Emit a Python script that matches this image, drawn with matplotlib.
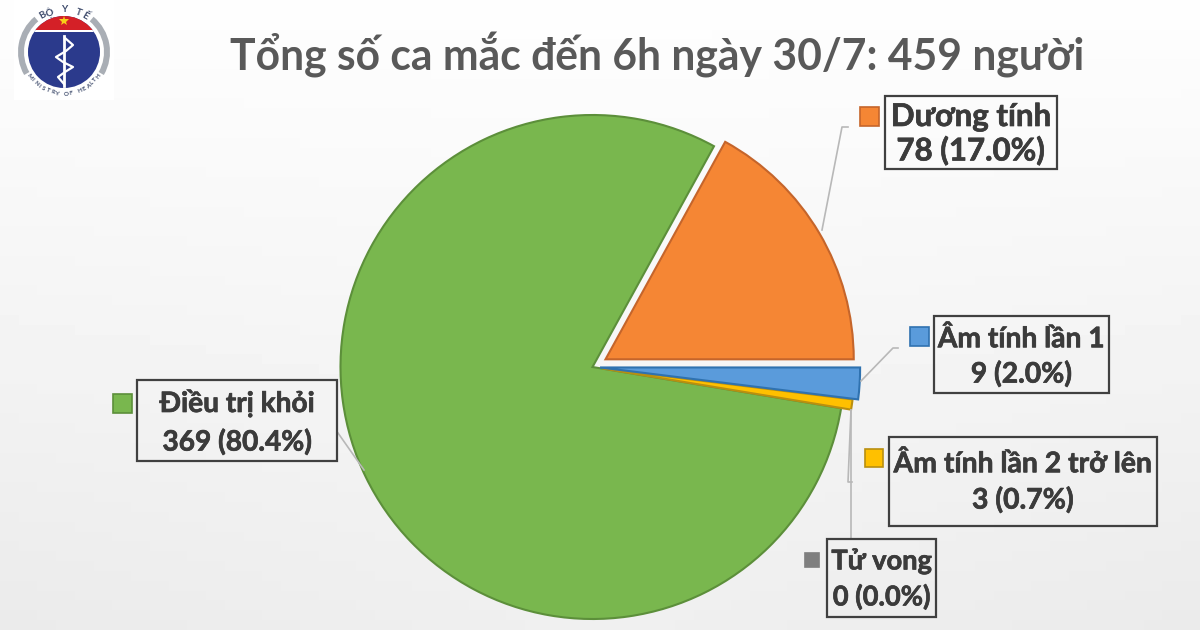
import numpy as np
import matplotlib
matplotlib.use("Agg")
import matplotlib.pyplot as plt
import matplotlib.patheffects as pe
from matplotlib.patches import Circle, Rectangle, Wedge

plt.rcParams['font.family'] = ['Lato', 'Noto Sans', 'DejaVu Sans']

# data, in pie order (counter clockwise from 3 o'clock)
categories = ["Dương tính", "Điều trị khỏi", "Tử vong", "Âm tính lần 2 trở lên", "Âm tính lần 1"]
cases = [78, 369, 0, 3, 9]
title_text = "Tổng số ca mắc đến 6h ngày 30/7: 459 người"

fill_colors = ["#F58634", "#79B74E", "#7F7F7F", "#FFC000", "#5A9BDB"]
edge_colors = ["#C5652B", "#5C8F3A", "#7F7F7F", "#B98F10", "#2F72B0"]
explode = [0.06, 0.0, 0.0, 0.04, 0.03]
radius_scale = [0.985, 1.0, 1.0, 1.0, 1.032]

# label box (x0, y0, x1, y1), text rows, font size, marker (x0, y0, size), leader points - image pixels
boxes = [(885, 96, 1057, 169), (137, 380, 337, 461), (827, 539, 936, 617), (889, 437, 1157, 526), (934, 316, 1109, 393)]
text_rows = [(117, 151), (403, 442), (561, 597), (464, 500), (339, 374)]
label_sizes = [22.5, 20.2, 19.6, 20.4, 20.3]
markers = [(860, 107, 19), (113, 394, 19), (805, 553, 14), (865, 449, 18), (910, 327, 19)]
leaders = [
    [(822, 230), (842, 127), (848, 127)],
    [(338, 433), (364, 470)],
    [(851, 410), (851, 539)],
    [(851, 410), (848, 482), (852, 482)],
    [(861, 381), (893, 348), (898, 348)],
]

fig = plt.figure(figsize=(12, 6.3), dpi=100)
ax = fig.add_axes([0, 0, 1, 1])
ax.set_xlim(0, 1200)
ax.set_ylim(630, 0)
ax.axis("off")

# soft slide background
rows = np.linspace(0, 1, 64)[:, None]
cols = np.abs(np.linspace(-1, 1, 64))[None, :]
shade = 0.995 - 0.055 * rows - 0.02 * cols * rows
ax.imshow(shade, cmap="gray", vmin=0, vmax=1, extent=(0, 1200, 630, 0), aspect="auto", zorder=0)

ax.text(657, 55, title_text, fontsize=30.7, fontweight="bold", color="#595959",
        ha="center", va="center", zorder=3)

# pie gets its own axes so that radius 1 = 252 px
cx, cy, r_px = 592.5, 367, 252
span = 1.5
pie_ax = fig.add_axes([(cx - span * r_px) / 1200, 1 - (cy + span * r_px) / 630,
                       2 * span * r_px / 1200, 2 * span * r_px / 630])
wedges, _ = pie_ax.pie(cases, colors=fill_colors, explode=explode, startangle=0, counterclock=True,
                       wedgeprops={"linewidth": 1.5})
for w, ec, v, rs in zip(wedges, edge_colors, cases, radius_scale):
    w.set_edgecolor(ec)
    w.set_radius(rs)
    if v == 0:
        w.set_visible(False)
pie_ax.set_xlim(-span, span)
pie_ax.set_ylim(-span, span)
pie_ax.axis("off")
pie_ax.patch.set_alpha(0)

# labels go on an overlay so they sit above the pie
top = fig.add_axes([0, 0, 1, 1])
top.set_xlim(0, 1200)
top.set_ylim(630, 0)
top.axis("off")
top.patch.set_alpha(0)

heavier = [pe.withStroke(linewidth=0.5, foreground="#3B3B3B")]
total = sum(cases)
for name, v, box, row, size, mark, line, fc, ec in zip(categories, cases, boxes, text_rows, label_sizes,
                                                       markers, leaders, fill_colors, edge_colors):
    xs, ys = zip(*line)
    top.plot(xs, ys, color="#B8B8B8", lw=1.2, zorder=2)
    x0, y0, x1, y1 = box
    top.add_patch(Rectangle((x0, y0), x1 - x0, y1 - y0, fc="none", ec="#404040", lw=1.6, zorder=3))
    top.text((x0 + x1) / 2, row[0], name, fontsize=size, fontweight="bold", color="#3B3B3B",
             ha="center", va="center", zorder=4, path_effects=heavier)
    top.text((x0 + x1) / 2, row[1], f"{v} ({v / total * 100:.1f}%)", fontsize=size, fontweight="bold",
             color="#3B3B3B", ha="center", va="center", zorder=4, path_effects=heavier)
    mx, my, ms = mark
    top.add_patch(Rectangle((mx, my), ms, ms, fc=fc, ec=ec, lw=1.2, zorder=3))

# ministry logo
lx, ly = 64, 52
top.add_patch(Rectangle((14, 0), 100, 100, fc="white", ec="none", zorder=1))
top.add_patch(Wedge((lx, ly), 46, 150, 230, width=6, fc="#A9AEB5", ec="none", zorder=2))
top.add_patch(Wedge((lx, ly), 46, -50, 30, width=6, fc="#A9AEB5", ec="none", zorder=2))
disc = Circle((lx, ly), 36, fc="#2B3A8C", ec="none", zorder=2)
top.add_patch(disc)
cap = Rectangle((lx - 40, ly - 40), 80, 18, fc="#D42027", ec="none", zorder=3)
top.add_patch(cap)
cap.set_clip_path(disc)
band = Rectangle((lx - 40, ly - 22), 80, 1.5, fc="white", ec="none", zorder=3)
top.add_patch(band)
band.set_clip_path(disc)
top.plot([lx], [ly - 31], marker="*", ms=7, color="#F7D117", mew=0, zorder=4)
top.plot([lx, lx], [ly - 16, ly + 34], color="white", lw=2, zorder=4)
snake_x = [lx + 1, lx + 9, lx + 2, lx - 8, lx - 1, lx + 9, lx + 1, lx - 6, lx]
snake_y = [ly - 14, ly - 7, ly - 1, ly + 5, ly + 10, ly + 15, ly + 20, ly + 25, ly + 32]
top.plot(snake_x, snake_y, color="white", lw=1.6, zorder=4)


def arc_text(text, start, stop, radius, size, upright_at):
    # letters one by one round the logo, y axis is flipped so angle 90 is straight down
    for ch, deg in zip(text, np.linspace(start, stop, len(text))):
        t = np.radians(deg)
        top.text(lx + radius * np.cos(t), ly + radius * np.sin(t), ch, fontsize=size, color="#3D4A6B",
                 ha="center", va="center", rotation=upright_at - deg, rotation_mode="anchor",
                 fontweight="bold", zorder=4)


arc_text("BỘ Y TẾ", 240, 300, 42, 7, 270)
arc_text("MINISTRY OF HEALTH", 145, 35, 42, 4.4, 90)

fig.savefig("out.png", dpi=100)
